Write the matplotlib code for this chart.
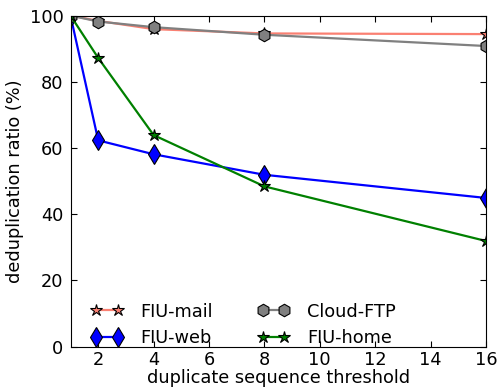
import numpy as np
import matplotlib
matplotlib.use("Agg")
import matplotlib.pyplot as plt

# duplicate sequence thresholds
thresholds = [1, 2, 4, 8, 16]

# deduplication ratio (%) per trace
fiu_mail = [100, 98.4, 95.9, 94.6, 94.4]
fiu_web = [100, 62.3, 58.1, 51.9, 44.9]
cloud_ftp = [100, 98.2, 96.5, 94.2, 90.8]
fiu_home = [100, 87.2, 63.9, 48.4, 31.9]

plt.rcParams.update({
    "font.family": "DejaVu Sans",
    "font.size": 12.8,
    "xtick.direction": "in",
    "ytick.direction": "in",
    "xtick.top": True,
    "ytick.right": True,
    "xtick.major.size": 4,
    "ytick.major.size": 4,
    "xtick.major.pad": 3,
    "ytick.major.pad": 5,
})

fig = plt.figure(figsize=(5, 3.89), dpi=100)
ax = fig.add_axes([0.141, 0.109, 0.831, 0.851])

ax.plot(thresholds, fiu_mail, color="salmon", marker="*", markersize=9,
        markeredgecolor="black", markeredgewidth=0.8, lw=1.6, label="FIU-mail")
ax.plot(thresholds, fiu_web, color="blue", marker="d", markersize=10,
        markeredgecolor="black", markeredgewidth=0.8, lw=1.6, label="FIU-web")
ax.plot(thresholds, cloud_ftp, color="gray", marker="h", markersize=9,
        markeredgecolor="black", markeredgewidth=0.8, lw=1.6, label="Cloud-FTP")
ax.plot(thresholds, fiu_home, color="green", marker="*", markersize=9,
        markeredgecolor="black", markeredgewidth=0.8, lw=1.6, label="FIU-home")

ax.set_xlim(1, 16)
ax.set_ylim(0, 100)
ax.set_xticks(np.arange(2, 17, 2))
ax.set_yticks(np.arange(0, 101, 20))
ax.set_xlabel("duplicate sequence threshold", labelpad=0)
ax.set_ylabel("deduplication ratio (%)", labelpad=4)

ax.legend(loc="lower left", bbox_to_anchor=(0.032, -0.024), ncol=2,
          frameon=False, numpoints=2, columnspacing=2.5, handlelength=1.8,
          handletextpad=1.0, labelspacing=0.5, borderaxespad=0)

fig.savefig("out.png", dpi=100)
